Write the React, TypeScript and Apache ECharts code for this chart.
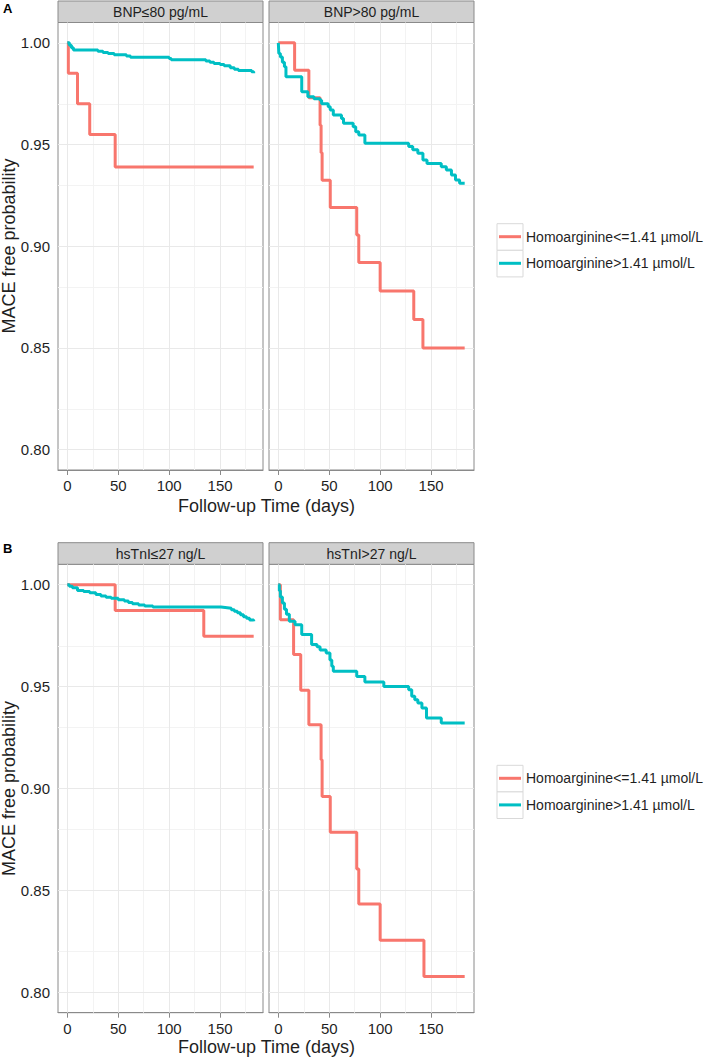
import React, { useEffect, useRef } from "react";
import * as echarts from "echarts";

const RED = "#F8766D";
const CYAN = "#00BFC4";
const LOW_NAME = "Homoarginine<=1.41 µmol/L";
const HIGH_NAME = "Homoarginine>1.41 µmol/L";

const panelTitles = ["BNP≤80 pg/mL", "BNP>80 pg/mL", "hsTnI≤27 ng/L", "hsTnI>27 ng/L"];
const panelLetters = ["A", "B"];
const xTitle = "Follow-up Time (days)";
const yTitle = "MACE free probability";

const xTicks = [0, 50, 100, 150];
const xMinor = [25, 75, 125, 175];
const yTicks = [0.8, 0.85, 0.9, 0.95, 1.0];
const yMinor = [0.825, 0.875, 0.925, 0.975];

// Panel A, BNP<=80
const aLeftLowTime = [0, 1, 10, 22, 47, 183];
const aLeftLowSurv = [1, 0.985, 0.97, 0.955, 0.939, 0.939];
const aLeftHighTime = [0, 2, 4, 6, 30, 35, 40, 46, 58, 62, 100, 102, 136, 140, 144, 150, 154, 160, 164, 168, 181, 183];
const aLeftHighSurv = [1, 0.9988, 0.9976, 0.9965, 0.9959, 0.9953, 0.9947, 0.9941, 0.9935, 0.9929, 0.9923, 0.9917, 0.9911, 0.9905, 0.9899, 0.9893, 0.9887, 0.9878, 0.987, 0.9864, 0.9858, 0.985];

// Panel A, BNP>80
const aRightLowTime = [0, 16, 30, 41, 42, 43, 51, 77, 79, 100, 133, 142, 183];
const aRightLowSurv = [1, 0.9865, 0.973, 0.9595, 0.946, 0.9325, 0.919, 0.9055, 0.892, 0.878, 0.864, 0.85, 0.85];
const aRightHighTime = [0, 0.5, 2, 4, 6, 7.5, 23, 29, 35, 41, 42.5, 49, 51, 54, 62, 64, 73.5, 76, 79, 85, 128, 132, 137, 142, 146, 160, 165, 170, 174, 178, 183];
const aRightHighSurv = [1, 0.9948, 0.993, 0.9905, 0.9882, 0.9833, 0.976, 0.9735, 0.9725, 0.9718, 0.97, 0.9686, 0.967, 0.9645, 0.9628, 0.9605, 0.9587, 0.9563, 0.9547, 0.9506, 0.949, 0.9474, 0.9457, 0.9424, 0.9407, 0.9391, 0.9375, 0.935, 0.9326, 0.931, 0.931];

// Panel B, hsTnI<=27
const bLeftLowTime = [0, 47, 134, 183];
const bLeftLowSurv = [1, 0.9873, 0.9747, 0.9747];
const bLeftHighTime = [0, 2, 5, 10, 16, 22, 28, 33, 38, 43, 50, 56, 60, 64, 70, 76, 84, 151, 157, 161, 164, 167, 170, 173, 176, 179, 183];
const bLeftHighSurv = [1, 0.9992, 0.9985, 0.9972, 0.9966, 0.996, 0.9952, 0.9944, 0.9938, 0.9933, 0.9926, 0.992, 0.9913, 0.9906, 0.99, 0.9895, 0.989, 0.9887, 0.9884, 0.9877, 0.987, 0.9862, 0.9852, 0.9843, 0.9835, 0.9827, 0.982];

// Panel B, hsTnI>27
const bRightLowTime = [0, 2, 15, 22, 30, 42, 43, 51, 77, 79, 100, 143, 183];
const bRightLowSurv = [1, 0.9828, 0.9657, 0.9482, 0.9313, 0.9141, 0.8961, 0.8785, 0.8605, 0.8433, 0.8255, 0.8078, 0.8078];
const bRightHighTime = [0, 1, 2, 4, 6, 8, 10.8, 16.4, 23, 32.7, 38, 41, 47, 50.7, 52.5, 54, 77, 85, 103.6, 128, 131, 134, 137, 141, 145.5, 160, 183];
const bRightHighSurv = [1, 0.997, 0.994, 0.991, 0.988, 0.9855, 0.982, 0.9804, 0.9755, 0.9706, 0.9695, 0.968, 0.9665, 0.963, 0.96, 0.9575, 0.955, 0.9522, 0.9501, 0.9485, 0.9452, 0.9435, 0.9419, 0.9395, 0.9346, 0.9321, 0.9321];

const curves = [
  [aLeftLowTime, aLeftLowSurv, aLeftHighTime, aLeftHighSurv],
  [aRightLowTime, aRightLowSurv, aRightHighTime, aRightHighSurv],
  [bLeftLowTime, bLeftLowSurv, bLeftHighTime, bLeftHighSurv],
  [bRightLowTime, bRightLowSurv, bRightHighTime, bRightHighSurv],
];

const FONT = "'Liberation Sans', Arial, Helvetica, sans-serif";
const BORDER = "#8a8a8a";
const TEXT = "#1f1f1f";

function pairs(t: number[], s: number[]) {
  return t.map((v, i) => [v, s[i]]);
}

export default function App() {
  const ref = useRef<HTMLDivElement>(null);
  useEffect(() => {
    document.body.style.margin = "0";
    const chart = echarts.init(ref.current!, null, { renderer: "svg" });

    const grids = [
      { left: 58, top: 22.5, width: 205, height: 447.5 },
      { left: 269, top: 22.5, width: 205, height: 447.5 },
      { left: 58, top: 564.3, width: 205, height: 448.4 },
      { left: 269, top: 564.3, width: 205, height: 448.4 },
    ];

    const xAxis = grids.map((_, i) => ({
      type: "value",
      gridIndex: i,
      min: -9.15,
      max: 192.15,
      axisLine: { show: true, lineStyle: { color: BORDER, width: 1 } },
      axisTick: { show: true, customValues: xTicks, length: 5, lineStyle: { color: BORDER } },
      axisLabel: { show: true, customValues: xTicks, fontSize: 15, color: TEXT, margin: 8, fontFamily: FONT },
      splitLine: { show: false },
    }));

    const yAxis = grids.map((_, i) => ({
      type: "value",
      gridIndex: i,
      min: 0.79,
      max: 1.01,
      axisLine: { show: true, lineStyle: { color: BORDER, width: 1 } },
      axisTick: { show: i % 2 === 0, customValues: yTicks, length: 5, lineStyle: { color: BORDER } },
      axisLabel: {
        show: i % 2 === 0,
        customValues: yTicks,
        fontSize: 15,
        color: TEXT,
        margin: 8,
        fontFamily: FONT,
        formatter: (v: number) => v.toFixed(2),
      },
      splitLine: { show: false },
    }));

    const series: any[] = [];
    grids.forEach((_, i) => {
      series.push({
        type: "line",
        xAxisIndex: i,
        yAxisIndex: i,
        data: [],
        z: 1,
        silent: true,
        markLine: {
          silent: true,
          z: 1,
          symbol: "none",
          label: { show: false },
          animation: false,
          data: [
            ...xMinor.map((v) => ({ xAxis: v, lineStyle: { color: "#f3f3f3", width: 1, type: "solid" } })),
            ...yMinor.map((v) => ({ yAxis: v, lineStyle: { color: "#f3f3f3", width: 1, type: "solid" } })),
            ...xTicks.map((v) => ({ xAxis: v, lineStyle: { color: "#e9e9e9", width: 1, type: "solid" } })),
            ...yTicks.map((v) => ({ yAxis: v, lineStyle: { color: "#e9e9e9", width: 1, type: "solid" } })),
          ],
        },
      });
      const [lt, ls, ht, hs] = curves[i];
      series.push({
        type: "line",
        name: LOW_NAME,
        xAxisIndex: i,
        yAxisIndex: i,
        step: "end",
        symbol: "none",
        showSymbol: false,
        data: pairs(lt, ls),
        z: 3,
        lineStyle: { color: RED, width: 3 },
        itemStyle: { color: RED },
      });
      series.push({
        type: "line",
        name: HIGH_NAME,
        xAxisIndex: i,
        yAxisIndex: i,
        step: "end",
        symbol: "none",
        showSymbol: false,
        data: pairs(ht, hs),
        z: 3,
        lineStyle: { color: CYAN, width: 3 },
        itemStyle: { color: CYAN },
      });
    });

    const legendTops = [228.7, 770.3];
    const legend = legendTops.map((top) => ({
      data: [LOW_NAME, HIGH_NAME],
      orient: "vertical",
      left: 499,
      top,
      padding: 0,
      itemWidth: 22,
      itemHeight: 3,
      itemGap: 10.6,
      icon: "rect",
      selectedMode: false,
      textStyle: { fontSize: 14, color: TEXT, lineHeight: 16, fontFamily: FONT },
    }));

    const graphic: any[] = [];
    grids.forEach((g, i) => {
      const stripTop = i < 2 ? 1 : 542.7;
      const stripH = g.top - stripTop;
      graphic.push({
        type: "rect",
        shape: { x: g.left, y: stripTop, width: g.width, height: stripH },
        style: { fill: "#d0d0d0", stroke: BORDER, lineWidth: 1 },
        z: 0,
      });
      graphic.push({
        type: "text",
        x: g.left + g.width / 2,
        y: stripTop + stripH / 2,
        style: { text: panelTitles[i], fontSize: 14, fill: TEXT, align: "center", verticalAlign: "middle", fontFamily: FONT },
        z: 1,
      });
    });
    legendTops.forEach((top) => {
      [0, 1].forEach((r) => {
        graphic.push({
          type: "rect",
          shape: { x: 497, y: top + 8 - 13 + r * 26.6, width: 26, height: 26.6 },
          style: { fill: "#ffffff", stroke: "#d9d9d9", lineWidth: 1 },
          z: 0,
        });
      });
    });
    [8, 548].forEach((y, i) => {
      graphic.push({
        type: "text",
        x: 3,
        y,
        style: { text: panelLetters[i], fontSize: 13, fontWeight: "bold", fill: "#000", verticalAlign: "middle", fontFamily: FONT },
      });
    });
    [
      [246, 506],
      [788.5, 1047],
    ].forEach(([yc, xy]) => {
      graphic.push({
        type: "text",
        x: 9,
        y: yc,
        rotation: Math.PI / 2,
        style: { text: yTitle, fontSize: 18, fill: TEXT, align: "center", verticalAlign: "middle", fontFamily: FONT },
      });
      graphic.push({
        type: "text",
        x: 266.5,
        y: xy,
        style: { text: xTitle, fontSize: 18, fill: TEXT, align: "center", verticalAlign: "middle", fontFamily: FONT },
      });
    });

    chart.setOption({
      animation: false,
      backgroundColor: "#ffffff",
      textStyle: { fontFamily: FONT },
      grid: grids.map((g) => ({ ...g, show: true, borderColor: BORDER, borderWidth: 1, backgroundColor: "#ffffff", containLabel: false })),
      xAxis,
      yAxis,
      legend,
      graphic,
      series,
    });
    return () => chart.dispose();
  }, []);
  return <div ref={ref} style={{ width: 709, height: 1058 }} />;
}
